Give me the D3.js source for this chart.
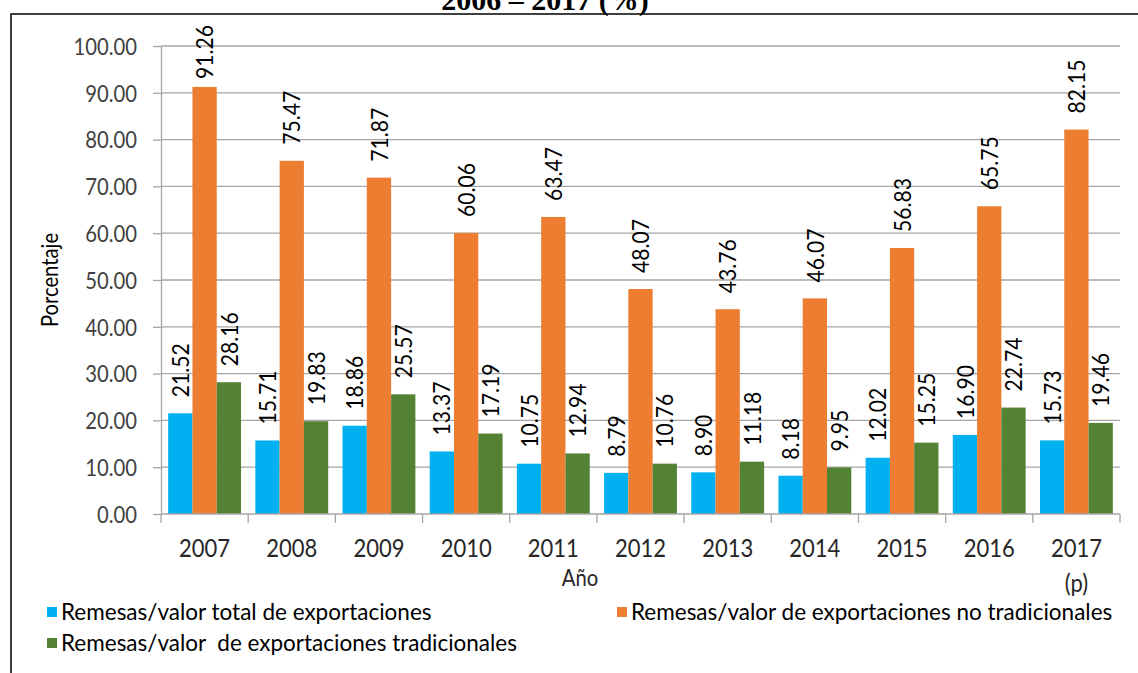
<!DOCTYPE html>
<html>
<head>
<meta charset="utf-8">
<script src="https://cdnjs.cloudflare.com/ajax/libs/d3/7.8.5/d3.min.js"></script>
<style>
body { margin: 0; background: #fff; }
svg { display: block; }
</style>
</head>
<body>
<script>
// data
var years = ["2007", "2008", "2009", "2010", "2011", "2012", "2013", "2014", "2015", "2016", "2017"];
var seriesNames = [
  "Remesas/valor total de exportaciones",
  "Remesas/valor de exportaciones no tradicionales",
  "Remesas/valor  de exportaciones tradicionales"
];
var totalExp = [21.52, 15.71, 18.86, 13.37, 10.75, 8.79, 8.90, 8.18, 12.02, 16.90, 15.73];
var noTradExp = [91.26, 75.47, 71.87, 60.06, 63.47, 48.07, 43.76, 46.07, 56.83, 65.75, 82.15];
var tradExp = [28.16, 19.83, 25.57, 17.19, 12.94, 10.76, 11.18, 9.95, 15.25, 22.74, 19.46];
var yTicks = [0, 10, 20, 30, 40, 50, 60, 70, 80, 90, 100];

var width = 1138,
height = 673;
var plotLeft = 161, plotRight = 1120, plotTop = 46, plotBottom = 514;
var colors = ["#00b0f0", "#ed7d31", "#548235"];
var sx = 0.88; // Calibri is narrower than Lato
var font = "Lato, 'Open Sans', sans-serif";

var svg = d3.select("body").append("svg")
  .attr("width", width)
  .attr("height", height);

// frame (only top and left edges are in the picture)
svg.append("path")
  .attr("d", "M11,673 L11,14 L1138,14")
  .attr("fill", "none")
  .attr("stroke", "#000")
  .attr("stroke-width", 1.5);

// cut title
svg.append("text")
  .attr("x", 545)
  .attr("y", 10)
  .attr("text-anchor", "middle")
  .style("font-family", "'Liberation Serif', 'Times New Roman', serif")
  .style("font-weight", "bold")
  .style("font-size", "30px")
  .text("2006 – 2017 (%)");

var x = d3.scaleBand()
  .domain(years)
  .range([plotLeft, plotRight])
  .padding(0);

var xs = d3.scaleBand()
  .domain([0, 1, 2])
  .range([0, x.bandwidth()])
  .paddingInner(0)
  .paddingOuter(0.295);

var y = d3.scaleLinear()
  .domain([0, 100])
  .range([plotBottom, plotTop]);

// gridlines
svg.append("g")
  .selectAll("line")
  .data(yTicks.slice(1))
  .enter().append("line")
  .attr("x1", plotLeft)
  .attr("x2", plotRight)
  .attr("y1", function(d) { return y(d); })
  .attr("y2", function(d) { return y(d); })
  .attr("stroke", "#a6a6a6")
  .attr("stroke-width", 1.3);

// y axis
var yAxis = svg.append("g")
  .attr("transform", "translate(" + plotLeft + ",0)")
  .call(d3.axisLeft(y).tickValues(yTicks).tickFormat(d3.format(".2f")).tickSize(8).tickSizeOuter(0));
yAxis.selectAll("line, path").attr("stroke", "#a6a6a6").attr("stroke-width", 1.3);
yAxis.selectAll("text")
  .attr("x", null)
  .attr("dy", "0.36em")
  .attr("transform", "translate(-24,0) scale(" + sx + ",1)")
  .attr("fill", "#404040")
  .style("font-family", font)
  .style("font-size", "23px");

// bars
var series = [totalExp, noTradExp, tradExp];
var groups = svg.selectAll(".serie")
  .data(series)
  .enter().append("g")
  .attr("class", "serie")
  .attr("fill", function(d, i) { return colors[i]; });

groups.each(function(vals, si) {
  var g = d3.select(this);
  g.selectAll("rect")
    .data(vals)
    .enter().append("rect")
    .attr("x", function(d, i) { return x(years[i]) + xs(si); })
    .attr("width", xs.bandwidth())
    .attr("y", function(d) { return y(d); })
    .attr("height", function(d) { return plotBottom - y(d); });
});

// x axis line + ticks at category boundaries
svg.append("line")
  .attr("x1", plotLeft).attr("x2", plotRight)
  .attr("y1", plotBottom).attr("y2", plotBottom)
  .attr("stroke", "#a6a6a6").attr("stroke-width", 1.3);
var bounds = years.map(function(d) { return x(d); }).concat([x.range()[1]]);
svg.append("g")
  .selectAll("line")
  .data(bounds)
  .enter().append("line")
  .attr("x1", function(d) { return d; })
  .attr("x2", function(d) { return d; })
  .attr("y1", plotBottom)
  .attr("y2", plotBottom + 9)
  .attr("stroke", "#a6a6a6")
  .attr("stroke-width", 1.3);

var xAxis = svg.append("g")
  .attr("transform", "translate(0," + plotBottom + ")")
  .call(d3.axisBottom(x).tickSize(0).tickPadding(0));
xAxis.select(".domain").remove();
xAxis.selectAll("text")
  .attr("y", 43)
  .attr("dy", null)
  .attr("transform", "scale(" + sx + ",1)")
  .attr("fill", "#262626")
  .style("font-family", font)
  .style("font-size", "25px");

svg.append("text")
  .attr("transform", "translate(" + (x("2017") + x.bandwidth() / 2) + ",592) scale(" + sx + ",1)")
  .attr("text-anchor", "middle")
  .attr("fill", "#262626")
  .style("font-family", font)
  .style("font-size", "25px")
  .text("(p)");

svg.append("text")
  .attr("transform", "translate(580,586) scale(" + sx + ",1)")
  .attr("text-anchor", "middle")
  .attr("fill", "#262626")
  .style("font-family", font)
  .style("font-size", "23px")
  .text("Año");

svg.append("text")
  .attr("transform", "translate(58," + ((plotTop + plotBottom) / 2) + ") rotate(-90) scale(" + sx + ",1)")
  .attr("text-anchor", "middle")
  .attr("fill", "#000")
  .style("font-family", font)
  .style("font-size", "23px")
  .text("Porcentaje");

// data labels, rotated
var gap = 16, labelTop = 25;
groups.each(function(vals, si) {
  d3.select(this).selectAll("text")
    .data(vals)
    .enter().append("text")
    .attr("fill", "#000")
    .attr("dy", "0.36em")
    .style("font-family", font)
    .style("font-size", "24px")
    .text(function(d) { return d3.format(".2f")(d); })
    .attr("transform", function(d, i) {
      var cx = x(years[i]) + xs(si) + xs.bandwidth() / 2;
      var pos = y(d) - gap;
      var len = this.getComputedTextLength() * sx;
      if (pos - len < labelTop) pos = labelTop + len;
      return "translate(" + cx + "," + pos + ") rotate(-90) scale(" + sx + ",1)";
    });
});

// legend
var legendPos = [[47, 612], [617, 612], [47, 643]];
var legend = svg.selectAll(".legend")
  .data(seriesNames)
  .enter().append("g")
  .attr("class", "legend")
  .attr("transform", function(d, i) { return "translate(" + legendPos[i][0] + "," + legendPos[i][1] + ")"; });

legend.append("rect")
  .attr("x", 0)
  .attr("y", -5)
  .attr("width", 10)
  .attr("height", 10)
  .attr("fill", function(d, i) { return colors[i]; });

legend.append("text")
  .attr("x", 14)
  .attr("dy", "0.36em")
  .attr("fill", "#000")
  .style("font-family", font)
  .style("font-size", "22.5px")
  .style("white-space", "pre")
  .text(function(d) { return d; });
</script>
</body>
</html>
